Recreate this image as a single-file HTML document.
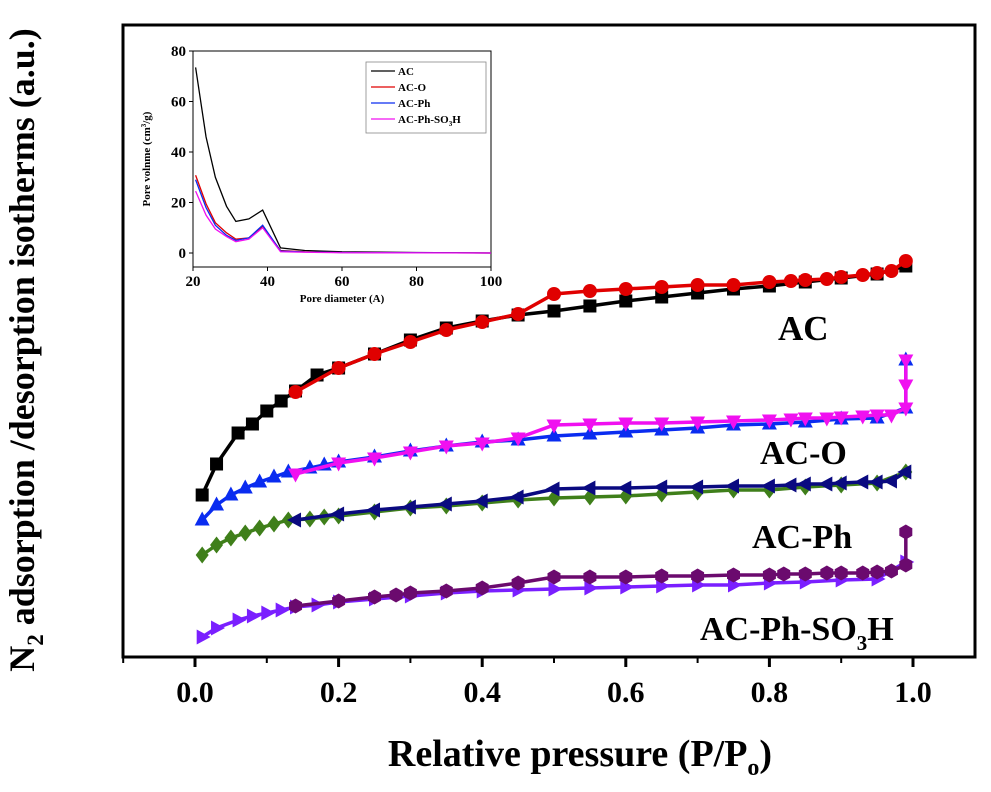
<!DOCTYPE html>
<html><head><meta charset="utf-8"><style>
body{margin:0;background:#fff}
svg text{font-family:"Liberation Serif",serif;font-weight:bold}
</style></head><body>
<svg id="chart" width="991" height="787" viewBox="0 0 991 787">
<rect x="123" y="25" width="852" height="632" fill="none" stroke="#000" stroke-width="3"/>
<g id="xaxis"></g>
<g id="series"></g>
<text x="778" y="340" font-size="35">AC</text>
<text x="760" y="464" font-size="34">AC-O</text>
<text x="752" y="548" font-size="34">AC-Ph</text>
<text x="700" y="640" font-size="34">AC-Ph-SO<tspan font-size="21" dy="10">3</tspan><tspan dy="-10">H</tspan></text>
<text x="580" y="766" font-size="38" text-anchor="middle">Relative pressure (P/P<tspan font-size="24" dy="9">o</tspan><tspan dy="-9">)</tspan></text>
<text transform="translate(34,350) rotate(-90)" font-size="36" text-anchor="middle">N<tspan font-size="23" dy="9">2</tspan><tspan dy="-9"> adsorption /desorption isotherms (a.u.)</tspan></text>
<g id="inset">
<rect x="193" y="51" width="298" height="216" fill="none" stroke="#000" stroke-width="1"/>
<text transform="translate(150,159) rotate(-90)" font-size="11" text-anchor="middle">Pore volnme (cm<tspan font-size="7" dy="-4">3</tspan><tspan dy="4">/g)</tspan></text>
<text x="342" y="302" font-size="11" text-anchor="middle">Pore diameter (A)</text>
<g>
<rect x="366" y="62" width="120" height="71" fill="#fff" stroke="#888" stroke-width="0.8"/>
</g>
</g>
</svg>
<script>
const pAds = [0.01,0.03,0.06,0.08,0.1,0.12,0.14,0.17,0.2,0.25,0.3,0.35,0.4,0.45,0.5,0.55,0.6,0.65,0.7,0.75,0.8,0.85,0.9,0.95,0.99];
const acAds = [162,193,224,233,246,256,266,282,289,303,317,329,336,342,346,351,356,360,364,368,371,375,379,383,391];
const pDes = [0.14,0.2,0.25,0.3,0.35,0.4,0.45,0.5,0.55,0.6,0.65,0.7,0.75,0.8,0.83,0.85,0.88,0.9,0.93,0.95,0.97,0.99];
const acDes = [265,289,303,315,327,335,343,363,366,368,370,372,372,375,376,377,378,380,382,384,386,396];
const pAdsO = [0.01,0.03,0.05,0.07,0.09,0.11,0.13,0.16,0.18,0.2,0.25,0.3,0.35,0.4,0.45,0.5,0.55,0.6,0.65,0.7,0.75,0.8,0.85,0.9,0.95,0.99,0.99];
const acoAds = [137,152,162,169,175,180,185,189,192,195,200,206,211,215,217,221,223,225,227,229,232,233,235,238,239,249,297];
const pDesO = [0.14,0.2,0.25,0.3,0.35,0.4,0.45,0.5,0.55,0.6,0.65,0.7,0.75,0.8,0.83,0.85,0.88,0.9,0.93,0.95,0.97,0.99,0.99,0.99];
const acoDes = [183,194,199,205,211,214,219,232,233,234,234,235,236,237,238,239,239,240,241,242,242,249,272,297];
const pAdsPh = [0.01,0.03,0.05,0.07,0.09,0.11,0.13,0.16,0.18,0.2,0.25,0.3,0.35,0.4,0.45,0.5,0.55,0.6,0.65,0.7,0.75,0.8,0.85,0.9,0.95,0.99];
const acphAds = [102,112,119,124,129,133,137,138,140,141,145,149,151,154,157,159,160,161,163,165,167,167,170,172,174,185];
const acphDes = [137,143,147,150,153,156,160,168,169,169,170,170,171,171,172,173,173,174,175,175,176,185];
const so3Ads = [20,29,37,41,44,47,50,52,55,58,61,64,66,67,68,69,70,71,72,72,74,75,77,78,95];
const pDesS = [0.14,0.2,0.25,0.28,0.3,0.35,0.4,0.45,0.5,0.55,0.6,0.65,0.7,0.75,0.8,0.82,0.85,0.88,0.9,0.93,0.95,0.97,0.99,0.99];
const so3Des = [51,56,60,62,64,66,69,74,80,80,80,81,81,82,82,83,83,84,84,84,85,86,92,125];
const xTicks = [0,0.2,0.4,0.6,0.8,1.0];
const xTickLabels = ["0.0","0.2","0.4","0.6","0.8","1.0"];
const dia = [20.7,23.5,26,29,31.5,35,38.7,43.5,50,60,80,100];
const pvAC = [73.5,46,30,18.5,12.5,13.5,17,2,1,0.5,0.2,0];
const pvO = [30.8,19.5,12,8,5.5,6,10.5,1,0.5,0.2,0.1,0];
const pvPh = [29,18,11,7,5,6,11,0.8,0.4,0.2,0.1,0];
const pvS = [24.5,15,9.5,6.5,4.5,5.5,10,0.5,0.3,0.1,0.05,0];
const insetXTicks = [20,40,60,80,100];
const insetYTicks = [0,20,40,60,80];

const NS="http://www.w3.org/2000/svg";
const X = p => 195 + p*718;
const Y = v => 657 - v;
const IX = d => 193 + (d-20)*298/80;
const IY = v => 253 - v*202/80;
function mk(tag, attrs, parent){const e=document.createElementNS(NS,tag);for(const k in attrs)e.setAttribute(k,attrs[k]);parent.appendChild(e);return e;}
const xa=document.getElementById('xaxis');
xTicks.forEach((t,i)=>{
  const l=mk('line',{x1:X(t),x2:X(t),y1:657,y2:667,stroke:'#000','stroke-width':3},xa);
  
  
  const tx=mk('text',{x:X(t),y:702,'font-size':30,'text-anchor':'middle'},xa);
  tx.textContent=xTickLabels[i];
  
  
  if(i<xTicks.length-1){const m=mk('line',{x1:X(t+0.1),x2:X(t+0.1),y1:657,y2:663,stroke:'#000','stroke-width':2},xa);
  
  }
});
const mk1=mk('line',{x1:X(-0.1),x2:X(-0.1),y1:657,y2:663,stroke:'#000','stroke-width':2},xa);



function marker(shape,x,y,c,g){
  const s=6.5;let e;
  if(shape==='sq') e=mk('rect',{x:x-s,y:y-s,width:2*s,height:2*s,fill:c},g);
  else if(shape==='ci') e=mk('circle',{cx:x,cy:y,r:s+0.5,fill:c},g);
  else if(shape==='hex') e=mk('polygon',{points:[0,1,2,3,4,5].map(k=>{const a=Math.PI/3*k+Math.PI/6;return (x+7.5*Math.cos(a))+','+(y+7.5*Math.sin(a));}).join(' '),fill:c},g);
  else {let pts;
    if(shape==='up') pts=[[0,-8.5],[7.5,5.5],[-7.5,5.5]];
    else if(shape==='dn') pts=[[0,8.5],[7.5,-5.5],[-7.5,-5.5]];
    else if(shape==='lt') pts=[[-8.5,0],[5.5,-7.5],[5.5,7.5]];
    else if(shape==='rt') pts=[[8.5,0],[-5.5,-7.5],[-5.5,7.5]];
    else pts=[[0,-8.5],[6.5,0],[0,8.5],[-6.5,0]];
    e=mk('polygon',{points:pts.map(q=>(x+q[0])+','+(y+q[1])).join(' '),fill:c},g);}
  
  
}
const sg=document.getElementById('series');
function series(px,vals,c,shape,name){
  const g=mk('g',{},sg);
  
  
  mk('polyline',{points:px.map((p,i)=>X(p)+','+Y(vals[i])).join(' '),fill:'none',stroke:c,'stroke-width':3.5},g);
  px.forEach((p,i)=>marker(shape,X(p),Y(vals[i]),c,g));
}
series(pAdsPh,acphAds,'#3f7f1a','dia','ac-ph-adsorption');
series(pDes,acphDes,'#0a0a80','lt','ac-ph-desorption');
series(pAds,so3Ads,'#7a1fff','rt','ac-ph-so3h-adsorption');
series(pDesS,so3Des,'#6b0a6e','hex','ac-ph-so3h-desorption');
series(pAdsO,acoAds,'#0a2cf0','up','ac-o-adsorption');
series(pDesO,acoDes,'#f010f0','dn','ac-o-desorption');
series(pAds,acAds,'#000','sq','ac-adsorption');
series(pDes,acDes,'#e00000','ci','ac-desorption');

const ig=document.getElementById('inset');
insetXTicks.forEach(t=>{
  mk('line',{x1:IX(t),x2:IX(t),y1:267,y2:271,stroke:'#000'},ig);
  const tx=mk('text',{x:IX(t),y:286,'font-size':15,'text-anchor':'middle'},ig);tx.textContent=t;
  
  
});
insetYTicks.forEach(t=>{
  mk('line',{x1:189,x2:193,y1:IY(t),y2:IY(t),stroke:'#000'},ig);
  const tx=mk('text',{x:186,y:IY(t)+5,'font-size':15,'text-anchor':'end'},ig);tx.textContent=t;
  
  
});
const inset=[[pvAC,'#000','AC'],[pvO,'#e00000','AC-O'],[pvPh,'#0a2cf0','AC-Ph'],[pvS,'#f010f0','AC-Ph-SO3H']];
inset.forEach((s,k)=>{
  const l=mk('polyline',{points:dia.map((d,i)=>IX(d)+','+IY(s[0][i])).join(' '),fill:'none',stroke:s[1],'stroke-width':1.3},ig);
  
  
  const y=71+k*16;
  mk('line',{x1:371,x2:395,y1:y,y2:y,stroke:s[1],'stroke-width':1.3},ig);
  const tx=mk('text',{x:398,y:y+4,'font-size':11},ig);
  if(s[2]==='AC-Ph-SO3H'){tx.innerHTML='AC-Ph-SO<tspan font-size="7" dy="3">3</tspan><tspan dy="-3">H</tspan>';}
  else tx.textContent=s[2];
  
  
});
</script>
</body></html>
